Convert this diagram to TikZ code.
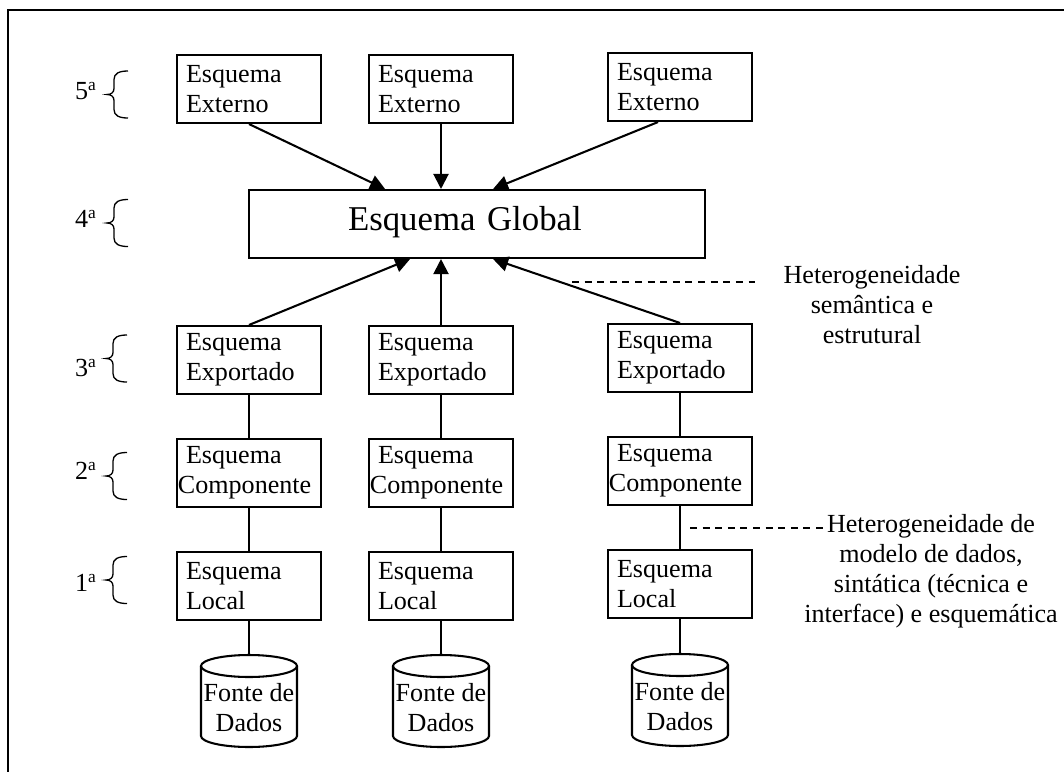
\documentclass[tikz,border=0pt]{standalone}
\usepackage{fontspec}
\setmainfont{Liberation Serif}
\usetikzlibrary{arrows.meta}
\begin{document}
\begin{tikzpicture}[x=0.46pt,y=-0.46pt,
  line/.style={line width=0.95pt},
  schema/.style={draw, line width=0.95pt, minimum width=66.24pt, minimum height=31.28pt,
    text width=57.96pt, inner xsep=4.14pt, inner ysep=0pt, align=left,
    font=\fontsize{12}{13.8}\selectfont},
  global/.style={draw, line width=0.95pt, minimum width=209.76pt, minimum height=31.28pt,
    text width=118.68pt, inner xsep=45.54pt, inner ysep=0pt, align=left, text depth=5.5pt,
    font=\fontsize{16}{19}\selectfont},
  dbtext/.style={inner sep=0pt, align=center, font=\fontsize{12}{13.8}\selectfont},
  note/.style={inner sep=0pt, align=center, font=\fontsize{12}{13.8}\selectfont},
  lvl/.style={inner sep=0pt, font=\fontsize{12}{13.8}\selectfont},
  link/.style={line width=0.95pt},
  arrow/.style={line width=0.95pt, -{Triangle[length=6.9pt,width=6.9pt]}},
  dashline/.style={line width=0.6pt, dash pattern=on 3.2pt off 2.6pt},
  lvbrace/.pic={
    \draw[line width=0.6pt] (21,-23.5) .. controls (12,-23.5) and (7,-21) .. (7,-15)
      -- (7,-6) .. controls (7,-2) and (4,0) .. (0,0)
      .. controls (4,0) and (7,2) .. (7,6) -- (7,15)
      .. controls (7,21) and (12,23.5) .. (21,23.5);
  },
  dbase/.pic={
    \draw[line width=0.95pt] (-48,-35) -- (-48,35)
      arc[start angle=180, end angle=0, x radius=48, y radius=11] -- (48,-35);
    \draw[line width=0.95pt] (0,-35) ellipse[x radius=48, y radius=11];
    \node[dbtext] (-txt) at (0,7) {Fonte de\\Dados};
    \coordinate (-top) at (0,-46);
  }]
\useasboundingbox (0,0) rectangle (1064,772);

% frame
\draw[line] (1064,10) -- (8,10) -- (8,772);

% level labels and braces
\node[lvl] (lv5) at (86,91) {5\textsuperscript{a}};
\node[lvl] (lv4) at (86,219) {4\textsuperscript{a}};
\node[lvl] (lv3) at (86,368) {3\textsuperscript{a}};
\node[lvl] (lv2) at (86,471) {2\textsuperscript{a}};
\node[lvl] (lv1) at (86,583) {1\textsuperscript{a}};
\pic at (107,94.5) {lvbrace};
\pic at (107,223) {lvbrace};
\pic at (106,358.5) {lvbrace};
\pic at (106,476) {lvbrace};
\pic at (106,580) {lvbrace};

% external schemas
\node[schema] (ext1) at (249,89) {Esquema\\Externo};
\node[schema] (ext2) at (441,89) {Esquema\\Externo};
\node[schema] (ext3) at (680,87) {Esquema\\Externo};

% global schema
\node[global] (glob) at (477,224) {Esquema Global};

% exported schemas
\node[schema] (exp1) at (249,360) {Esquema\\Exportado};
\node[schema] (exp2) at (441,360) {Esquema\\Exportado};
\node[schema] (exp3) at (680,358) {Esquema\\Exportado};

% component schemas
\node[schema] (comp1) at (249,473) {Esquema\\\hspace*{-3.7pt}Componente};
\node[schema] (comp2) at (441,473) {Esquema\\\hspace*{-3.7pt}Componente};
\node[schema] (comp3) at (680,471) {Esquema\\\hspace*{-3.7pt}Componente};

% local schemas
\node[schema] (loc1) at (249,586) {Esquema\\Local};
\node[schema] (loc2) at (441,586) {Esquema\\Local};
\node[schema] (loc3) at (680,584) {Esquema\\Local};

% data sources
\pic (db1) at (249,701) {dbase};
\pic (db2) at (441,701) {dbase};
\pic (db3) at (680,700) {dbase};

% arrows into the global schema
\draw[arrow] (ext1.south) -- ([xshift=-42.3pt]glob.north);
\draw[arrow] (ext2.south) -- (ext2.south |- glob.north);
\draw[arrow] ([xshift=-10.1pt]ext3.south) -- ([xshift=7.4pt]glob.north);
\draw[arrow] (exp1.north) -- ([xshift=-30.8pt]glob.south);
\draw[arrow] (exp2.north) -- (exp2.north |- glob.south);
\draw[arrow] (exp3.north) -- ([xshift=7.4pt]glob.south);

% vertical links
\foreach \i in {1,2,3} {
  \draw[link] (exp\i.south) -- (comp\i.north);
  \draw[link] (comp\i.south) -- (loc\i.north);
  \draw[link] (loc\i.south) -- (db\i-top);
}

% heterogeneity notes
\node[note] (het1) at (872,305) {Heterogeneidade\\semântica e\\estrutural};
\coordinate (h1a) at (572,282);
\coordinate (h1b) at (760,282);
\draw[dashline] (h1a) -- (h1b);

\node[note] (het2) at (931,571) {Heterogeneidade de\\modelo de dados,\\sintática (técnica e\\interface) e esquemática};
\coordinate (h2a) at (690,528);
\coordinate (h2b) at (824,528);
\draw[dashline] (h2a) -- (h2b);
\end{tikzpicture}
\end{document}
